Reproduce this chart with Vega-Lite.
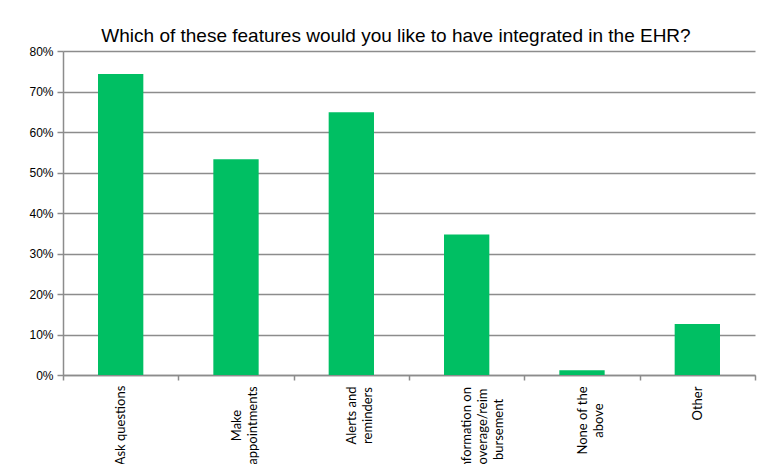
{
  "$schema": "https://vega.github.io/schema/vega-lite/v6.json",
  "autosize": {"type": "none"},
  "padding": {"left": 63, "top": 51, "right": 3, "bottom": 89},
  "width": 692,
  "height": 324,
  "background": "white",
  "title": {
    "text": "Which of these features would you like to have integrated in the EHR?",
    "font": "Liberation Sans",
    "fontSize": 19,
    "fontWeight": "normal",
    "color": "#000000",
    "anchor": "middle",
    "dx": -13,
    "dy": 9,
    "offset": 8
  },
  "data": {
    "values": [
      {"feature": "Ask questions", "share": 0.743},
      {"feature": "Make appointments", "share": 0.533},
      {"feature": "Alerts and reminders", "share": 0.649},
      {"feature": "Information on coverage/reimbursement", "share": 0.347},
      {"feature": "None of the above", "share": 0.012},
      {"feature": "Other", "share": 0.126}
    ]
  },
  "mark": {"type": "bar", "color": "#00bf63", "width": {"band": 0.393}},
  "encoding": {
    "x": {
      "field": "feature",
      "type": "nominal",
      "sort": null,
      "title": null,
      "scale": {"paddingInner": 0, "paddingOuter": 0},
      "axis": {
        "tickBand": "extent",
        "ticks": true,
        "tickSize": 5,
        "tickColor": "#8c8c8c",
        "tickWidth": 1.5,
        "domainColor": "#8c8c8c",
        "domainWidth": 1.5,
        "labelAngle": -90,
        "labelAlign": "center",
        "labelBaseline": "middle",
        "labelPadding": {
          "condition": [
            {"test": "datum.value == 'Ask questions' || datum.value == 'Make appointments'", "value": 45},
            {"test": "datum.value == 'Alerts and reminders'", "value": 35},
            {"test": "datum.value == 'Information on coverage/reimbursement'", "value": 49},
            {"test": "datum.value == 'None of the above'", "value": 40}
          ],
          "value": 23
        },
        "labelFont": "Lato",
        "labelFontSize": 13,
        "labelColor": "#000000",
        "labelLineHeight": 16,
        "labelLimit": 300,
        "labelExpr": "datum.value == 'Make appointments' ? ['Make', 'appointments'] : datum.value == 'Alerts and reminders' ? ['Alerts and', 'reminders'] : datum.value == 'Information on coverage/reimbursement' ? ['Information on', 'coverage/reim', 'bursement'] : datum.value == 'None of the above' ? ['None of the', 'above'] : datum.value"
      }
    },
    "y": {
      "field": "share",
      "type": "quantitative",
      "title": null,
      "scale": {"domain": [0, 0.8]},
      "axis": {
        "values": [0, 0.1, 0.2, 0.3, 0.4, 0.5, 0.6, 0.7, 0.8],
        "format": ".0%",
        "grid": true,
        "gridColor": "#8c8c8c",
        "gridWidth": 1.5,
        "tickColor": "#8c8c8c",
        "tickWidth": 1.5,
        "tickSize": 6,
        "domainColor": "#8c8c8c",
        "domainWidth": 1.5,
        "labelFont": "Liberation Sans",
        "labelFontSize": 12,
        "labelColor": "#000000",
        "labelPadding": 4
      }
    }
  },
  "config": {"view": {"stroke": null}}
}
